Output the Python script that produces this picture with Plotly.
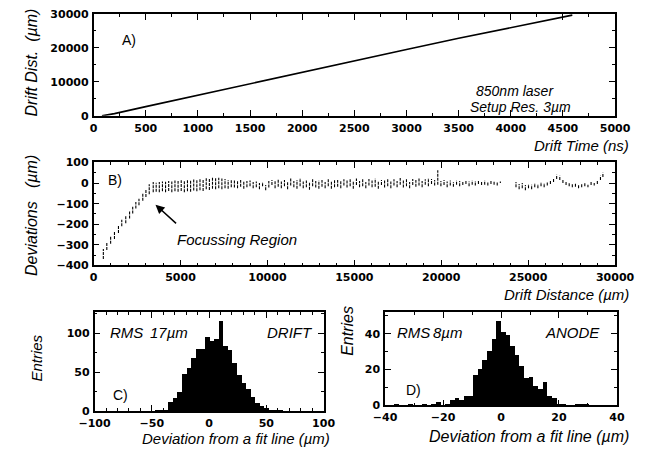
import plotly.graph_objects as go

W, H = 653, 461

# ---------------- Panel A: drift distance vs drift time ----------------
drift_time_ns = [80, 200, 500, 1000, 1500, 2000, 2500, 3000, 3500, 4000, 4590]
drift_dist_um = [0, 650, 2700, 6100, 9500, 12900, 16200, 19500, 22800, 26000, 29600]

# ---------------- Panel B: deviations (each entry = one short vertical stroke) -----
dev_x = [560, 760, 980, 1200, 1430, 1620, 1850, 2070, 2250, 2430, 2610, 2830, 3010, 3200, 3430,
         3600, 3780, 3960, 4140, 4320, 4500, 4680, 4860, 5040, 5220, 5400, 5580, 5760, 5940,
         6120, 6300, 6480, 6660, 6840, 7020, 7200, 7380,
         7560, 7740, 7920, 8100, 8280, 8460, 8640, 8820, 9000, 9180, 9360, 9540, 9720, 9900,
         10080, 10260, 10440, 10620, 10800, 10980, 11160, 11340, 11520, 11700, 11880, 12060,
         12240, 12420, 12600, 12780, 12960, 13140, 13320, 13500, 13680, 13860,
         14040, 14220, 14400, 14580, 14760, 14940, 15120, 15300, 15480, 15660, 15840, 16020,
         16200, 16380, 16560, 16740, 16920, 17100, 17280, 17460, 17640, 17820, 18000, 18180,
         18360, 18540, 18720, 18900, 19080, 19260, 19440, 19620, 19800, 19980, 20160, 20340,
         20520, 20700, 20880, 21060, 21240, 21420, 21600, 21780, 21960, 22140, 22320, 22500,
         22680, 22860, 23040, 23220, 23400,
         24300, 24480, 24660, 24840, 25020, 25200, 25380, 25560, 25740, 25920, 26100, 26280,
         26460, 26640, 26820, 27000, 27180, 27360, 27540, 27720, 27900, 28080, 28260, 28440,
         28620, 28800, 28980, 29160, 29300]
dev_lo = [-368, -325, -295, -272, -242, -210, -195, -172, -148, -124, -108, -86, -68, -54, -45,
          -42, -45, -40, -44, -38, -45, -40, -42, -38, -44, -40, -42, -36, -40,
          -35, -38, -30, -34, -28, -30, -25, -30,
          -25, -28, -20, -22, -25, -18, -28, -20, -15, -25, -20, -30, -15, -35,
          -22, -10, -25, -18, -25, -15, -30, -12, -20, -28, -15, -25,
          -20, -32, -15, -22, -28, -18, -25, -15, -28, -20,
          -18, -25, -12, -22, -15, -28, -10, -20, -15, -25, -12, -20,
          -18, -28, -10, -22, -15, -25, -12, -20, -8, -22, -15, -25,
          -10, -18, -12, -20, -8, -15, -5, -12, -8, -15, -10, -20,
          -12, -18, -8, -15, -10, -5, -15, -8, -12, -5, -10, -8,
          -12, -5, -8, -12, 0,
          -20, -30, -25, -35, -25, -30, -20, -25, -15, -20, -12, -5,
          5, 20, 15, 0, -10, -15, -20, -18, -25, -20, -15, -20,
          -10, -12, -5, 15, 30]
dev_hi = [-320, -287, -258, -238, -208, -178, -160, -138, -115, -92, -76, -52, -30, -6, 5,
          2, 5, 8, 6, 10, 8, 12, 10, 14, 12, 15, 13, 18, 16,
          20, 18, 24, 22, 28, 25, 26, 22,
          20, 15, 18, 12, 10, 15, 8, 10, 12, 5, 8, 0, 5, -10,
          10, 15, 12, 20, 8, 15, 5, 22, 10, 15, 25, 8,
          12, 5, 18, 10, 12, 15, 5, 20, 8, 15,
          15, 10, 18, 12, 20, 8, 22, 10, 18, 5, 20, 12,
          22, 8, 15, 12, 20, 8, 18, 10, 25, 12, 18, 5,
          20, 15, 22, 10, 18, 25, 20, 15, 62, 10, 15, 8,
          12, 5, 12, 10, 5, 15, 8, 12, 10, 15, 8, 12,
          5, 15, 10, 5, 8,
          5, -5, 0, -10, -5, -8, 0, -5, 5, 0, 5, 10,
          20, 40, 35, 15, 5, 0, -5, -2, -10, -5, 0, -8,
          5, 0, 10, 35, 50]

# ---------------- Panel C: DRIFT residual histogram (50 bins, -100..100) -----------
drift_hist_range = [-100, 100]
drift_counts = [0, 0, 0, 0, 0, 0, 0, 0, 0, 0, 0, 0, 0,
                1, 1, 2, 12, 17, 24, 48, 55, 68, 80, 80, 95, 90, 92, 115, 84, 78,
                62, 46, 36, 28, 18, 10, 6, 4, 2, 1, 1,
                0, 0, 0, 0, 0, 0, 0, 0, 0]

# ---------------- Panel D: ANODE residual histogram (50 bins, -40..40) -------------
anode_hist_range = [-40, 40]
anode_counts = [0, 0, 1, 0, 0, 1, 0, 0, 1, 0, 1, 2, 0, 1, 3, 4, 3, 5, 5,
                17, 20, 25, 30, 37, 47, 41, 39, 33, 28, 22, 15, 16, 11, 9, 13, 5, 4,
                1, 1, 0, 0, 1, 1, 1, 0, 0, 0, 0, 0, 0]


def centers(rng, n):
    w = (rng[1] - rng[0]) / n
    return [rng[0] + w * (i + 0.5) for i in range(n)], w


drift_x, drift_w = centers(drift_hist_range, len(drift_counts))
anode_x, anode_w = centers(anode_hist_range, len(anode_counts))

# stroke polyline for panel B
bx, by = [], []
for x, lo, hi in zip(dev_x, dev_lo, dev_hi):
    bx += [x, x, None]
    by += [lo, hi, None]

FONT = "Liberation Sans"
TICKFONT = "DejaVu Sans"


def px(x):
    return x / W


def py(y):
    return 1 - y / H


fig = go.Figure()
fig.add_trace(go.Scatter(x=drift_time_ns, y=drift_dist_um, mode="lines",
                         line=dict(color="black", width=1.6), xaxis="x", yaxis="y"))
fig.add_trace(go.Scatter(x=bx, y=by, mode="lines", line=dict(color="black", width=1.1, dash="3px,1px"),
                         xaxis="x2", yaxis="y2", connectgaps=False))
fig.add_trace(go.Bar(x=drift_x, y=drift_counts, width=drift_w, marker=dict(color="black", line=dict(width=0)),
                     xaxis="x3", yaxis="y3"))
fig.add_trace(go.Bar(x=anode_x, y=anode_counts, width=anode_w, marker=dict(color="black", line=dict(width=0)),
                     xaxis="x4", yaxis="y4"))


def ax(domain, rng, dtick, minor, anchor, size=11):
    return dict(domain=domain, range=rng, dtick=dtick, tick0=0, ticks="inside", ticklen=6,
                tickwidth=1, tickcolor="black", showline=True, linecolor="black", linewidth=1.5,
                mirror="allticks", showgrid=False, zeroline=False,
                tickfont=dict(family=TICKFONT, size=size, color="black", weight="bold"),
                anchor=anchor, ticklabelstandoff=1, tickformat="d",
                minor=dict(ticks="inside", ticklen=3, dtick=minor, tickcolor="black", showgrid=False))


# panel pixel boxes: (left, right, top, bottom)
A = (82, 633, 8, 113)
B = (82, 633, 161, 267)
C = (83, 325, 315, 417)
D = (390, 635, 315, 411)


def xd(b):
    return [px(b[0]), px(b[1])]


def yd(b):
    return [py(b[3]), py(b[2])]


fig.update_layout(
    width=W, height=H, margin=dict(l=0, r=0, t=0, b=0),
    paper_bgcolor="white", plot_bgcolor="white", showlegend=False, bargap=0,
    font=dict(family=FONT, color="black"),
    xaxis=ax(xd(A), [0, 5000], 500, 250, "y"),
    yaxis=ax(yd(A), [0, 30000], 10000, 5000, "x"),
    xaxis2=ax(xd(B), [0, 30000], 5000, 1000, "y2"),
    yaxis2=ax(yd(B), [-400, 100], 100, 50, "x2"),
    xaxis3=ax(xd(C), [-100, 100], 50, 10, "y3"),
    yaxis3=ax(yd(C), [0, 127], 50, 25, "x3"),
    xaxis4=ax(xd(D), [-40, 40], 20, 10, "y4"),
    yaxis4=ax(yd(D), [0, 52], 20, 10, "x4"),
)


def txt(text, x, y, size=15, xanchor="center", angle=0, italic=True):
    t = f"<i>{text}</i>" if italic else text
    fig.add_annotation(text=t, x=px(x), y=py(y), xref="paper", yref="paper", showarrow=False,
                       xanchor=xanchor, yanchor="middle", textangle=angle,
                       font=dict(family=FONT, size=size, color="black"))


# axis titles
txt("Drift Dist.  (µm)", 16, 58, 16, angle=-90)
txt("Drift Time (ns)", 650, 144, 15, xanchor="right")
txt("Deviations   (µm)", 17, 216, 16, angle=-90)
txt("Drift Distance (µm)", 650, 297, 15, xanchor="right")
txt("Entries", 22, 362, 15, angle=-90)
txt("Deviation from a fit line (µm)", 334, 445, 15, xanchor="right")
txt("Entries", 350, 334, 16, angle=-90)
txt("Deviation from a fit line (µm)", 650, 443, 16, xanchor="right")

# in-panel labels
txt("A)", 110, 35, 14, xanchor="left", italic=False)
txt("850nm laser", 484, 87, 14, xanchor="left")
txt("Setup Res. 3µm", 478, 104, 14, xanchor="left")
txt("B)", 95, 179, 14, xanchor="left", italic=False)
txt("Focussing Region", 168, 240, 15, xanchor="left")
txt("C)", 100, 400, 14, xanchor="left", italic=False)
txt("RMS", 97, 336, 15, xanchor="left")
txt("17µm", 140, 336, 15, xanchor="left")
txt("DRIFT", 263, 336, 15, xanchor="left")
txt("D)", 410, 395, 14, xanchor="left", italic=False)
txt("RMS", 400, 336, 15, xanchor="left")
txt("8µm", 438, 336, 15, xanchor="left")
txt("ANODE", 557, 336, 15, xanchor="left")

# arrow to focussing region
fig.add_annotation(x=3560, y=-105, ax=4830, ay=-202, xref="x2", yref="y2", axref="x2", ayref="y2",
                   text="", showarrow=True, arrowhead=2, arrowsize=1.2, arrowwidth=1.5, arrowcolor="black")

fig.write_html("out.html")
